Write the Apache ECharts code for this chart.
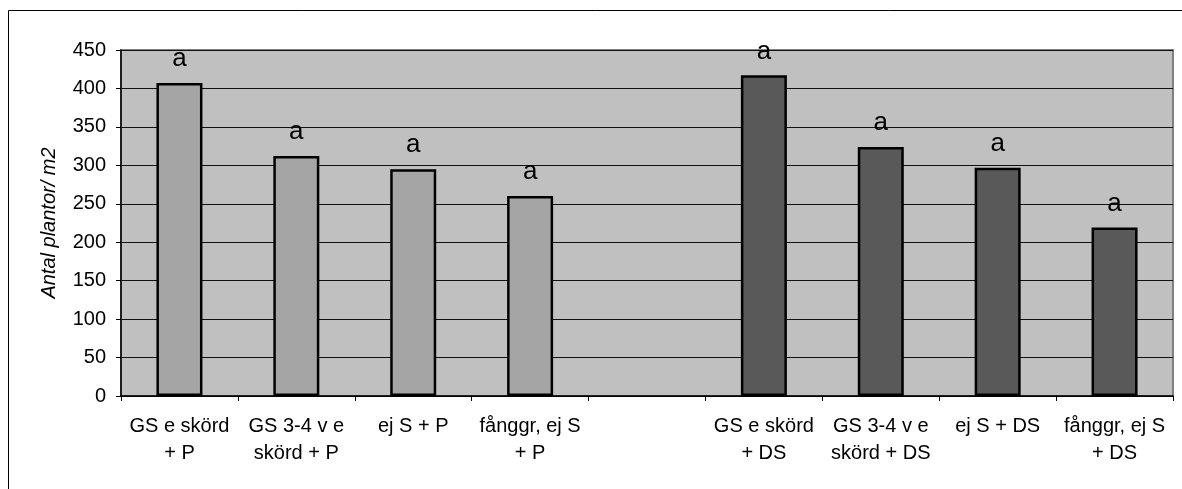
<!DOCTYPE html>
<html>
<head>
<meta charset="utf-8">
<script src="https://cdn.jsdelivr.net/npm/echarts@6/dist/echarts.min.js"></script>
<style>
html,body{margin:0;padding:0;background:#fff;}
#c{width:1182px;height:489px;}
</style>
</head>
<body>
<div id="c"></div>
<script>
const categories = ['GS e skörd\n+ P', 'GS 3-4 v e\nskörd + P', 'ej S + P', 'fånggr, ej S\n+ P', '', 'GS e skörd\n+ DS', 'GS 3-4 v e\nskörd + DS', 'ej S + DS', 'fånggr, ej S\n+ DS'];
const values = [407, 312, 295, 260, null, 417, 324, 297, 219];
const letters = ['a', 'a', 'a', 'a', '', 'a', 'a', 'a', 'a'];
const yTicks = [0, 50, 100, 150, 200, 250, 300, 350, 400, 450];
const yName = 'Antal plantor/ m2';

const font = 'Liberation Sans, Arial, sans-serif';
const chart = echarts.init(document.getElementById('c'));
chart.setOption({
  animation: false,
  backgroundColor: '#fff',
  graphic: [{
    type: 'rect', z: -10,
    shape: {x: 8.5, y: 10.5, width: 1300, height: 600},
    style: {fill: 'none', stroke: '#000', lineWidth: 1}
  }],
  grid: {left: 121, top: 50, right: 9, bottom: 93, show: true,
    backgroundColor: '#C0C0C0', borderColor: '#808080', borderWidth: 2},
  xAxis: {
    type: 'category', data: categories,
    axisLine: {lineStyle: {color: '#000', width: 1.5}},
    axisTick: {show: true, length: 5, lineStyle: {color: '#000'}},
    axisLabel: {interval: 0, color: '#000', fontFamily: font, fontSize: 20, lineHeight: 27, margin: 17}
  },
  yAxis: {
    type: 'value', min: yTicks[0], max: yTicks[yTicks.length - 1], interval: 50,
    name: yName, nameLocation: 'middle', nameGap: 62,
    nameTextStyle: {fontFamily: font, fontSize: 20, fontStyle: 'italic', color: '#000'},
    axisLine: {show: true, lineStyle: {color: '#000', width: 1.5}},
    axisTick: {show: true, length: 5, lineStyle: {color: '#000'}},
    axisLabel: {color: '#000', fontFamily: font, fontSize: 20, margin: 15},
    splitLine: {show: true, lineStyle: {color: '#111', width: 1}}
  },
  series: [{
    type: 'bar',
    data: values,
    barWidth: 46,
    itemStyle: {
      color: p => p.dataIndex < 4 ? '#A5A5A5' : '#595959',
      borderColor: '#000', borderWidth: 2.5
    },
    label: {
      show: true, position: 'top', distance: 11,
      formatter: p => letters[p.dataIndex],
      color: '#000', fontFamily: font, fontSize: 26
    }
  }]
});
</script>
</body>
</html>
